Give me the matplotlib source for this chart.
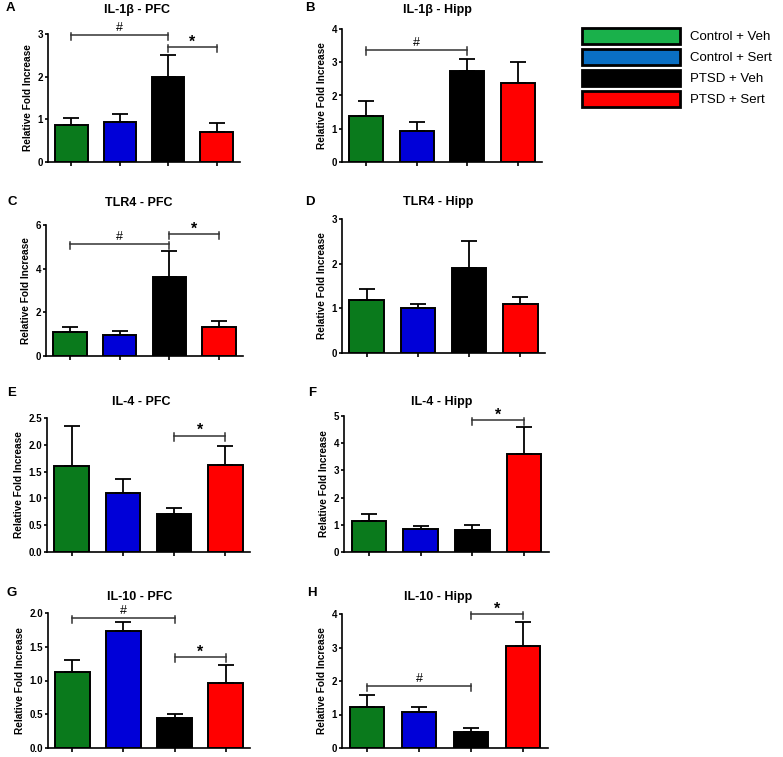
import matplotlib
matplotlib.use("Agg")
import matplotlib.pyplot as plt
from matplotlib.patches import Patch

plt.rcParams['font.family'] = ['Liberation Sans', 'DejaVu Sans']

# groups and colours
groups = ["Control + Veh", "Control + Sert", "PTSD + Veh", "PTSD + Sert"]
bar_colors = ["#0a7a1c", "#0000d8", "#000000", "#ff0000"]
legend_colors = ["#1ab14b", "#0a6fc4", "#000000", "#ff0000"]

# panel data (mean and upper SEM)
letters = ["A", "B", "C", "D", "E", "F", "G", "H"]
titles = ["IL-1\u03b2 - PFC", "IL-1\u03b2 - Hipp", "TLR4 - PFC", "TLR4 - Hipp",
          "IL-4 - PFC", "IL-4 - Hipp", "IL-10 - PFC", "IL-10 - Hipp"]
means = [
    [0.87, 0.93, 2.00, 0.70],
    [1.39, 0.93, 2.75, 2.38],
    [1.10, 0.98, 3.63, 1.33],
    [1.18, 1.01, 1.91, 1.09],
    [1.60, 1.11, 0.70, 1.62],
    [1.14, 0.84, 0.80, 3.62],
    [1.13, 1.73, 0.45, 0.97],
    [1.22, 1.08, 0.48, 3.05],
]
sems = [
    [0.17, 0.20, 0.50, 0.22],
    [0.45, 0.27, 0.36, 0.62],
    [0.23, 0.18, 1.16, 0.29],
    [0.25, 0.09, 0.60, 0.16],
    [0.75, 0.26, 0.13, 0.36],
    [0.25, 0.12, 0.21, 0.99],
    [0.18, 0.13, 0.05, 0.26],
    [0.35, 0.15, 0.12, 0.71],
]
ymax = [3, 4, 6, 3, 2.5, 5, 2.0, 4]
ystep = [1, 1, 2, 1, 0.5, 1, 0.5, 1]
# significance brackets: (from bar, to bar, height, symbol)
brackets = [
    [(0, 2, 2.97, "#"), (2, 3, 2.69, "*")],
    [(0, 2, 3.37, "#")],
    [(0, 2, 5.11, "#"), (2, 3, 5.57, "*")],
    [],
    [(2, 3, 2.17, "*")],
    [(2, 3, 4.85, "*")],
    [(0, 2, 1.92, "#"), (2, 3, 1.35, "*")],
    [(0, 2, 1.84, "#"), (2, 3, 4.00, "*")],
]

# layout in pixels: axes box (left, top, right, bottom), title (x, y), letter (x, y)
boxes = [(48, 34, 240, 162), (342, 29, 542, 162), (46, 225, 243, 356), (342, 219, 545, 353),
         (47, 418, 250, 552), (344, 416, 549, 552), (48, 613, 250, 748), (342, 614, 548, 748)]
title_pos = [(137, 10), (437, 10), (139, 203), (438, 202),
             (141, 402), (442, 402), (140, 597), (438, 597)]
letter_pos = [(10, 8), (310, 8), (12, 202), (310, 202),
              (12, 393), (312, 393), (12, 593), (312, 593)]

W, H = 783, 757
fig = plt.figure(figsize=(W / 100, H / 100), dpi=100)

x = list(range(4))
for k in range(8):
    l, t, r, b = boxes[k]
    ax = fig.add_axes([l / W, 1 - b / H, (r - l) / W, (b - t) / H])
    ax.bar(x, means[k], width=0.67, color=bar_colors, edgecolor="black",
           linewidth=1.4, zorder=2)
    ax.errorbar(x, means[k], yerr=[[0] * 4, sems[k]], fmt="none", ecolor="black",
                elinewidth=1.3, capsize=5.5, capthick=1.3, zorder=3)
    ax.set_xlim(-0.48, 3.48)
    ax.set_ylim(0, ymax[k])
    n = int(round(ymax[k] / ystep[k]))
    ticks = [i * ystep[k] for i in range(n + 1)]
    ax.set_yticks(ticks)
    if ystep[k] < 1:
        ax.set_yticklabels(["%.1f" % v for v in ticks])
    else:
        ax.set_yticklabels(["%d" % v for v in ticks])
    ax.set_xticks(x)
    ax.set_xticklabels([])
    for s in ["top", "right"]:
        ax.spines[s].set_visible(False)
    for s in ["left", "bottom"]:
        ax.spines[s].set_linewidth(1.2)
    ax.tick_params(axis="y", length=2.5, width=1.2, labelsize=7, pad=1)
    ax.tick_params(axis="x", length=3, width=1.2)
    for lab in ax.get_yticklabels():
        lab.set_fontweight("bold")
    ax.set_ylabel("Relative Fold Increase", fontsize=7.3, fontweight="bold", labelpad=3)

    # brackets
    dy = ymax[k] / (b - t)  # data units per pixel
    for i, j, yb, sym in brackets[k]:
        ax.plot([i, j], [yb, yb], color="#333333", lw=1.1, clip_on=False, zorder=4)
        for xe in (i, j):
            ax.plot([xe, xe], [yb + 2.5 * dy, yb - 5 * dy], color="#333333", lw=1.1,
                    clip_on=False, zorder=4)
        if sym == "#":
            ax.text((i + j) / 2, yb + 1.0 * dy, sym, ha="center", va="bottom",
                    fontsize=9, clip_on=False)
        else:
            ax.text((i + j) / 2, yb - 2.5 * dy, sym, ha="center", va="bottom",
                    fontsize=11.5, fontweight="bold", clip_on=False)

    fig.text(title_pos[k][0] / W, 1 - title_pos[k][1] / H, titles[k], ha="center",
             va="center", fontsize=9, fontweight="bold")
    fig.text(letter_pos[k][0] / W, 1 - letter_pos[k][1] / H, letters[k], ha="center",
             va="center", fontsize=9.5, fontweight="bold")

handles = [Patch(facecolor=c, edgecolor="black", linewidth=2, joinstyle="round")
           for c in legend_colors]
fig.legend(handles, groups, loc="upper left", bbox_to_anchor=(582 / W, 1 - 28 / H),
           frameon=False, fontsize=9.5, handlelength=7.4, handleheight=1.5,
           handletextpad=0.75, labelspacing=0.36, borderpad=0, borderaxespad=0)

fig.savefig("out.png", dpi=100)
